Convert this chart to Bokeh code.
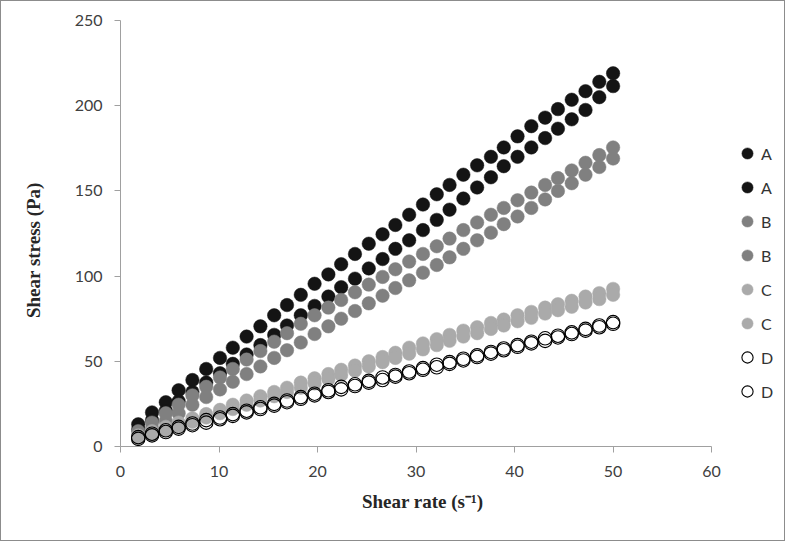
import numpy as np
from bokeh.plotting import figure
from bokeh.models import Legend, LegendItem, Range1d, FixedTicker, LinearAxis
from bokeh.embed import file_html
from bokeh.resources import INLINE

# ---- data ----
shear_rate = [1.8, 3.2, 4.6, 5.9, 7.3, 8.7, 10.1, 11.4, 12.8, 14.2, 15.6, 16.9,
              18.3, 19.7, 21.1, 22.4, 23.8, 25.2, 26.6, 27.9, 29.3, 30.7, 32.1, 33.4,
              34.8, 36.2, 37.6, 38.9, 40.3, 41.7, 43.1, 44.4, 45.8, 47.2, 48.6, 50.0]

A1 = [13, 20, 26, 33, 39, 45.5, 52, 58, 64.5, 70.5, 77, 83, 89, 95.5, 101, 107, 113, 119,
      124.5, 130, 136, 142, 148, 153.5, 159.5, 165, 170, 175.5, 182, 188, 193, 198, 203.5,
      208.5, 214, 219]
A2 = [10, 15.5, 21, 26.5, 32, 37.5, 43, 48.5, 54, 59.5, 65.5, 71, 77, 82.5, 88, 93.5, 98.5,
      104.5, 110, 116, 121, 127, 133, 139, 145.5, 152, 158, 164.5, 170, 175.5, 181, 186.5,
      192, 197.5, 205, 211.5]
B1 = [9, 14, 19.5, 24.5, 30, 35, 40.5, 45.5, 51, 56, 61.5, 66.5, 72, 77, 81.5, 86, 90.5, 95,
      99.5, 104, 108.5, 113, 117.5, 122, 127, 131.5, 136, 140, 144.5, 149, 153.5, 157.5, 162,
      166.5, 171, 175.5]
B2 = [6, 10.5, 15, 19.5, 24.5, 29, 33.5, 38, 42.5, 47, 52, 56.5, 61, 66, 70.5, 75, 79.5, 84,
      88.5, 93, 97.5, 102, 106.5, 111, 116, 121, 125.5, 130.5, 135, 140, 145, 150, 154.5,
      159.5, 164, 169]
C1 = [6.5, 9, 11.5, 14, 16.5, 19, 21.5, 24.5, 27, 29.5, 32, 34.5, 37.5, 40, 42.5, 45, 47.5,
      50, 52.5, 55, 58, 60.5, 63, 65.5, 68, 70, 72.5, 74.5, 77, 79, 81.5, 83.5, 85.5, 88, 90,
      92.5]
C2 = [5, 7, 9.5, 12, 14.5, 17, 19.5, 22, 24.5, 27, 29.5, 32, 34.5, 37, 39.5, 42, 44.5, 47,
      49.5, 52, 54.5, 57, 59.5, 62, 64.5, 66.5, 69, 71, 73.5, 75.5, 78, 80, 82, 84.5, 86.5, 89]
D1 = [5.5, 7.5, 9.5, 11.5, 13.5, 15.5, 17, 19, 21, 23, 25, 27, 29, 31, 33, 35, 36.5, 38.5,
      40.5, 42, 44, 46, 48, 49.5, 51.5, 53.5, 55.5, 57.5, 59.5, 61.5, 63.5, 65, 67, 69, 71, 73]
D2 = [4.5, 6.5, 8.5, 10.5, 12.5, 14, 16, 18, 20, 22, 24, 26, 28, 30, 32, 33.5, 35.5, 37.5,
      39, 41, 43, 45, 46.5, 48.5, 50.5, 52.5, 54.5, 56.5, 58.5, 60.5, 62, 64, 66, 68, 70, 72]

labels = ["A", "A", "B", "B", "C", "C", "D", "D"]
values = [A1, A2, B1, B2, C1, C2, D1, D2]
fills = ["#141414", "#141414", "#808080", "#808080", "#aaaaaa", "#aaaaaa", None, None]
lines = ["#141414", "#141414", "#808080", "#808080", "#aaaaaa", "#aaaaaa", "#000000", "#000000"]

x_ticks = [0, 10, 20, 30, 40, 50, 60]
y_ticks = [0, 50, 100, 150, 200, 250]

NB = "\u00a0"  # non-breaking spaces pad the titles so they sit where the reference has them

# frame extends to the right edge so the legend can sit inside it;
# the x axis itself only spans 0..60 (bounds)
p = figure(width=785, height=541, output_backend="svg", toolbar_location=None,
           x_range=Range1d(0, 67.6), y_range=Range1d(0, 250),
           min_border_left=119, min_border_right=0, min_border_top=19,
           min_border_bottom=96, background_fill_color="white",
           border_fill_color="white")
p.styles = {"border": "1px solid #8c8c8c"}
p.outline_line_color = None
p.xgrid.visible = False
p.ygrid.visible = False

renderers = []
for lab, ys, fc, lc in zip(labels, values, fills, lines):
    if fc is None:
        r = p.scatter(shear_rate, ys, size=13.5, marker="circle", fill_color=None,
                      line_color=lc, line_width=1.1)
    else:
        r = p.scatter(shear_rate, ys, size=13.5, marker="circle", fill_color=fc,
                      line_color=lc, line_width=0.5)
    renderers.append(r)

for ax in (p.xaxis[0], p.yaxis[0]):
    ax.axis_line_color = "#a0a0a0"
    ax.major_tick_line_color = "#a0a0a0"
    ax.major_tick_in = 0
    ax.major_tick_out = 6
    ax.minor_tick_line_color = None
    ax.major_label_text_font = "Lato"
    ax.major_label_text_font_size = "16px"
    ax.major_label_text_color = "#404040"

p.xaxis.ticker = FixedTicker(ticks=x_ticks)
p.xaxis.bounds = (0, 60)
p.yaxis.ticker = FixedTicker(ticks=y_ticks)
p.xaxis.major_label_standoff = 13
p.yaxis.major_label_standoff = 12

p.xaxis.axis_label = "Shear rate (s\u207b\u00b9)" + NB * 13
p.xaxis.axis_label_text_font = "Liberation Serif"
p.xaxis.axis_label_text_font_style = "bold"
p.xaxis.axis_label_text_font_size = "19px"
p.xaxis.axis_label_text_color = "#262626"
p.xaxis.axis_label_standoff = 11

# y-axis title carried by a bare axis
p.extra_y_ranges = {"ytitle": Range1d(0, 250)}
ytitle = LinearAxis(y_range_name="ytitle",
                    ticker=FixedTicker(ticks=[]), axis_line_color=None,
                    major_tick_line_color=None, minor_tick_line_color=None,
                    axis_label="Shear stress (Pa)" + NB * 7,
                    axis_label_text_font="Liberation Serif",
                    axis_label_text_font_style="bold",
                    axis_label_text_font_size="19px",
                    axis_label_text_color="#262626",
                    axis_label_standoff=28)
p.add_layout(ytitle, "left")

items = [LegendItem(label=lab, renderers=[r]) for lab, r in zip(labels, renderers)]
legend = Legend(items=items, location=(613, 41), glyph_width=28, glyph_height=28,
                spacing=6, padding=0, margin=0, label_standoff=0,
                border_line_color=None, background_fill_alpha=0,
                label_text_font="Lato", label_text_font_size="16px",
                label_text_color="#333333")
p.add_layout(legend)

open("out.html", "w").write(file_html(p, INLINE))
